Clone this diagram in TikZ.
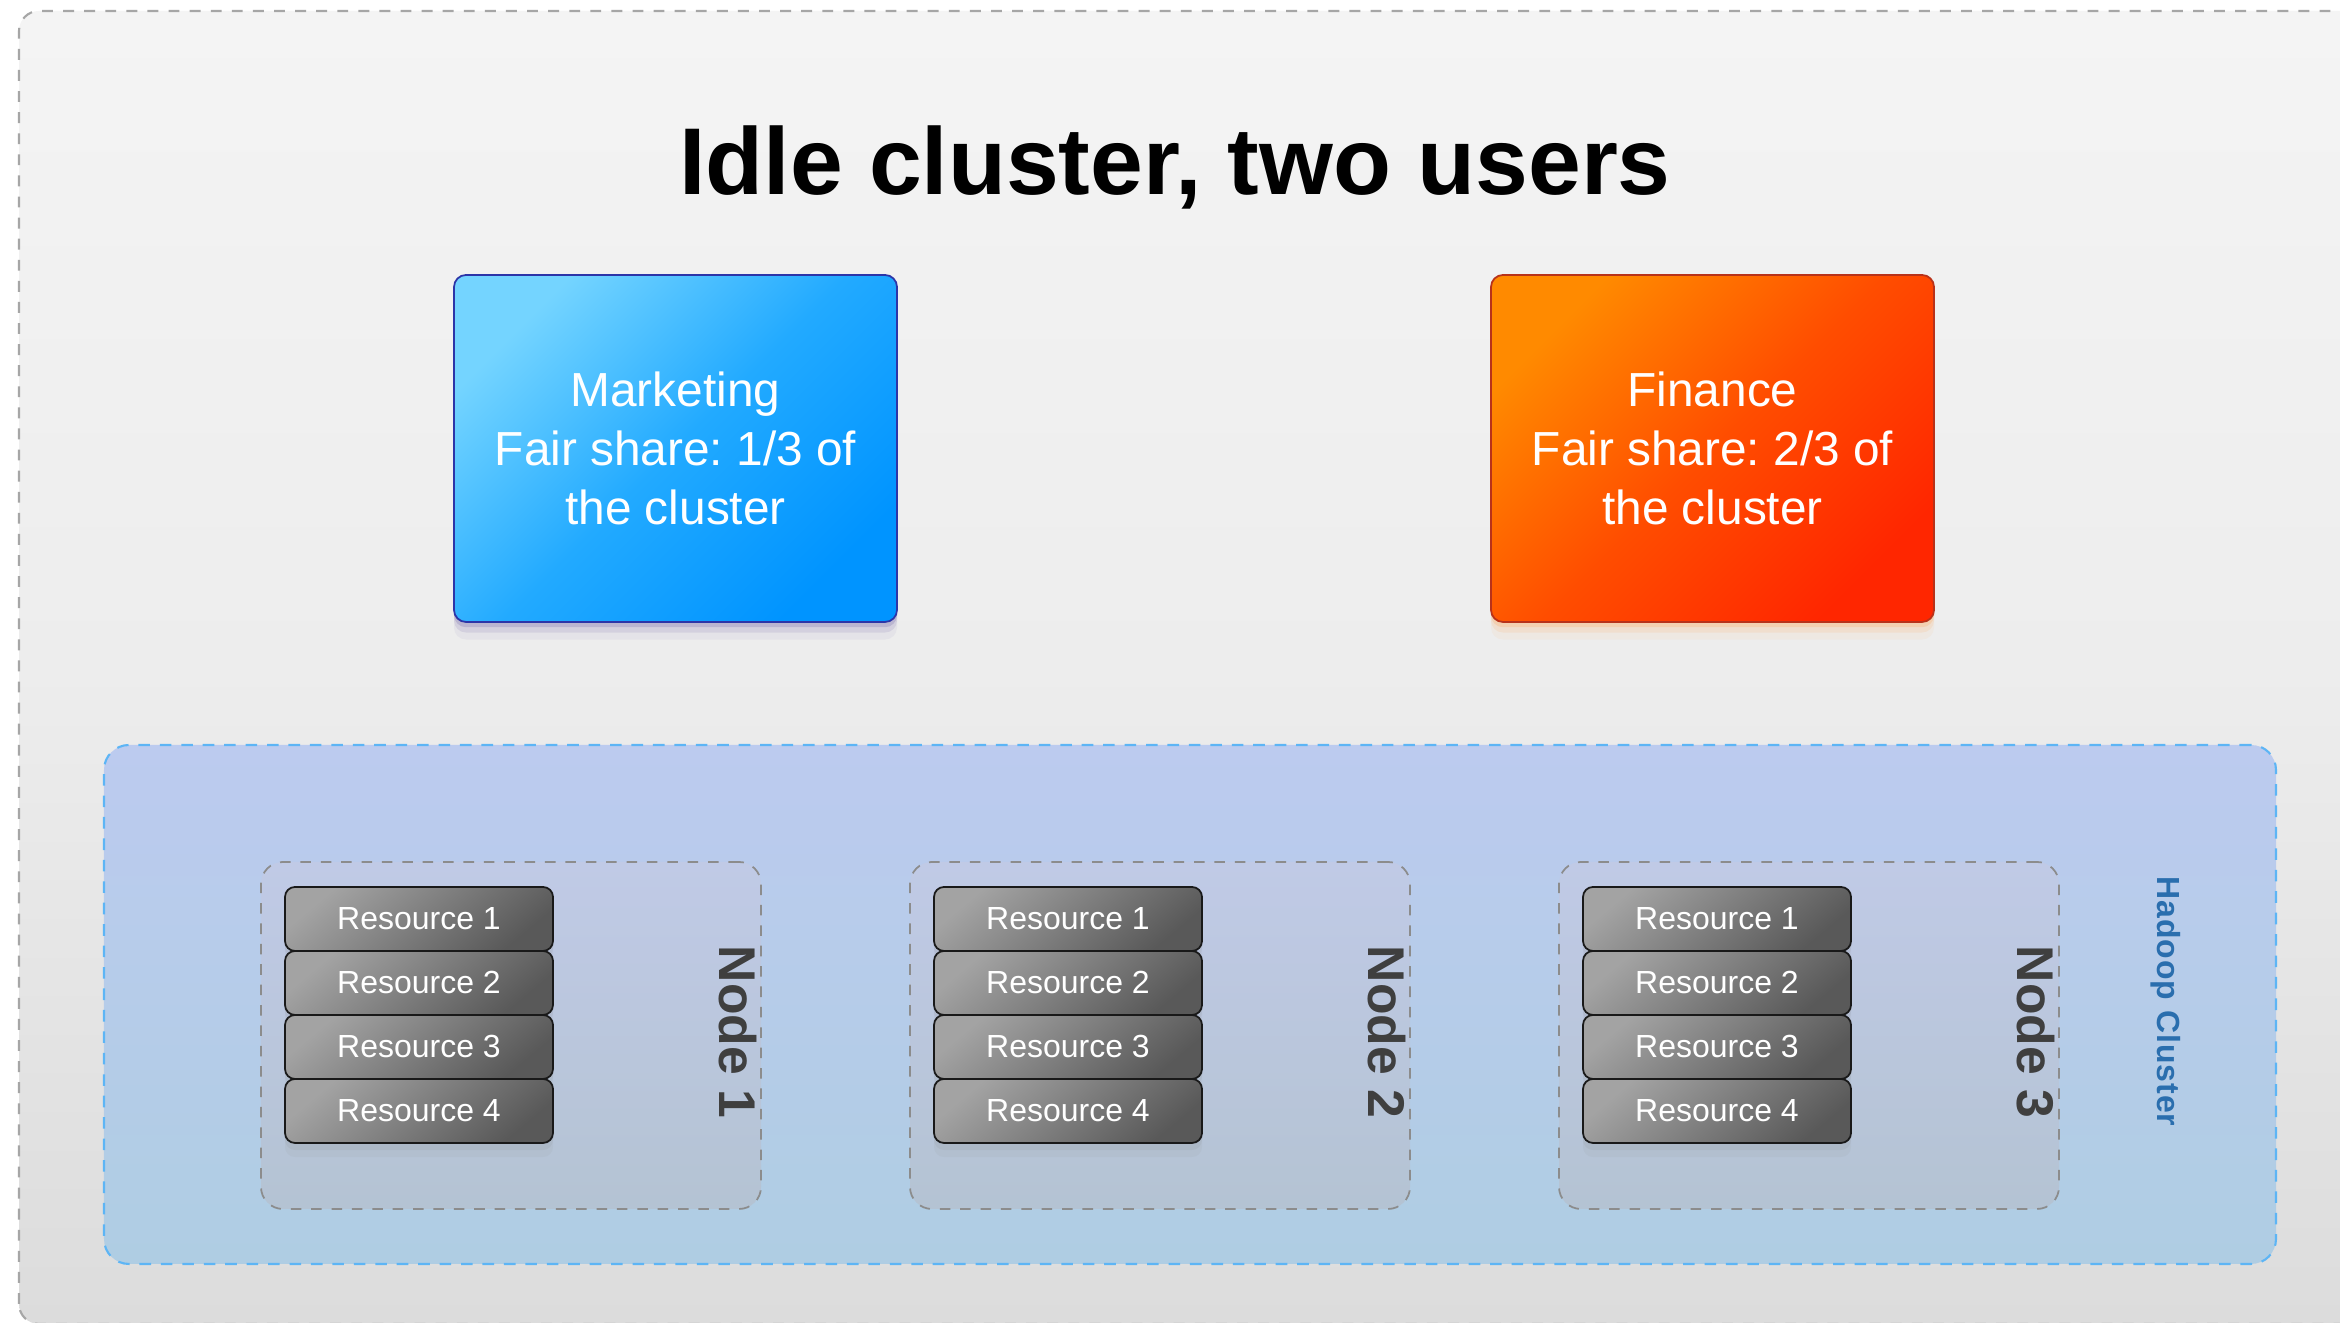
\documentclass[tikz,border=0pt]{standalone}
\usepackage{fontspec}
\setmainfont{Liberation Sans}
\newfontfamily\spacedfont[LetterSpace=3]{Liberation Sans}
\usetikzlibrary{shadows}
\frenchspacing

\definecolor{bgtop}{HTML}{F4F4F4}
\definecolor{bgmid}{HTML}{EDEDED}
\definecolor{bgbot}{HTML}{DCDCDC}
\definecolor{mktlight}{HTML}{74D4FF}
\definecolor{mktmid}{HTML}{22AAFF}
\definecolor{mktdark}{HTML}{0094FF}
\definecolor{mktline}{HTML}{2C35A8}
\definecolor{mktshadow}{HTML}{5A4A9A}
\definecolor{finlight}{HTML}{FF8A00}
\definecolor{finmid}{HTML}{FF4D00}
\definecolor{findark}{HTML}{FF2600}
\definecolor{finline}{HTML}{B8321A}
\definecolor{finshadow}{HTML}{FF9A40}
\definecolor{clustertop}{HTML}{BCCBEF}
\definecolor{clusterbot}{HTML}{AFCDE3}
\definecolor{clusterline}{HTML}{5DB5F5}
\definecolor{nodetop}{HTML}{C0CAE6}
\definecolor{nodebot}{HTML}{B4C3D3}
\definecolor{reslight}{HTML}{A3A3A3}
\definecolor{resdark}{HTML}{595959}
\definecolor{labelgray}{HTML}{3F3F3F}
\definecolor{hadoopblue}{HTML}{2A6EAE}

\begin{document}
\begin{tikzpicture}[
            frame/.style={draw=black!35, dash pattern=on 3.1pt off 2.9pt, line width=0.6pt, rounded corners=0.2cm},
            sharebox/.style={rounded corners=0.12cm, line width=0.5pt, minimum width=4.43cm, minimum height=3.47cm, inner sep=0pt, align=center, text=white, font=\fontsize{13.6}{16.8}\selectfont},
            softshadow/.style={drop shadow={fill=#1, opacity=0.06, shadow xshift=0pt, shadow yshift=-5pt},
                drop shadow={fill=#1, opacity=0.12, shadow xshift=0pt, shadow yshift=-3pt},
                drop shadow={fill=#1, opacity=0.2, shadow xshift=0pt, shadow yshift=-1.5pt}},
            clusterbox/.style={draw=clusterline, dash pattern=on 3.3pt off 2.8pt, line width=0.6pt, rounded corners=0.25cm, minimum width=21.72cm, minimum height=5.19cm, inner sep=0pt, top color=clustertop, bottom color=clusterbot},
            nodebox/.style={draw=black!45, dash pattern=on 3pt off 2.8pt, line width=0.5pt, rounded corners=0.22cm, minimum width=5cm, minimum height=3.47cm, inner sep=0pt, top color=nodetop, bottom color=nodebot},
            resbox/.style={draw=black!90, line width=0.5pt, rounded corners=0.1cm, minimum width=2.68cm, minimum height=0.64cm, inner sep=0pt, top color=reslight, bottom color=resdark, shading angle=40, text=white, font=\fontsize{9.1}{11}\selectfont,
                drop shadow={opacity=0.07, shadow xshift=0pt, shadow yshift=-4pt}, drop shadow={opacity=0.1, shadow xshift=0pt, shadow yshift=-2pt}},
            nodelabel/.style={rotate=-90, anchor=base, text=labelgray, font=\bfseries\fontsize{14.7}{17}\selectfont},
            clusterlabel/.style={rotate=-90, anchor=base, text=hadoopblue, font=\spacedfont\bfseries\fontsize{9.1}{11}\selectfont}
        ]
            \useasboundingbox (0,0) rectangle (23.40,13.23);
            \fill[white] (0,0) rectangle (23.40,13.23);
            \draw[frame, top color=bgtop, bottom color=bgbot, middle color=bgmid] (0.19,-0.01) rectangle (23.80,13.12);
            \node[anchor=base, font=\bfseries\fontsize{27}{32}\selectfont] (title) at (11.75,11.28) {Idle cluster, two users};
            \node[sharebox, softshadow=mktshadow, draw=mktline, top color=mktlight, bottom color=mktdark, middle color=mktmid, shading angle=45] (mkt) at (6.755,8.745) {Marketing\\Fair share: 1/3 of\\the cluster};
            \node[sharebox, softshadow=finshadow, draw=finline, top color=finlight, bottom color=findark, middle color=finmid, shading angle=45] (fin) at (17.125,8.745) {Finance\\Fair share: 2/3 of\\the cluster};
            \node[clusterbox] (cluster) at (11.90,3.185) {};
            \foreach \n/\x in {1/2.61,2/9.10,3/15.59} {
                \node[nodebox] (node\n) at (\x+2.5,2.875) {};
                \foreach \r/\y in {1/4.04,2/3.40,3/2.76,4/2.12}
                    \node[resbox] (res\n\r) at (\x+1.58,\y) {Resource \r};
                \node[nodelabel] (label\n) at (\x+4.58,2.91) {Node \n};
            }
            \node[clusterlabel] (hadoop) at (21.57,3.215) {Hadoop Cluster};
        \end{tikzpicture}
\end{document}
